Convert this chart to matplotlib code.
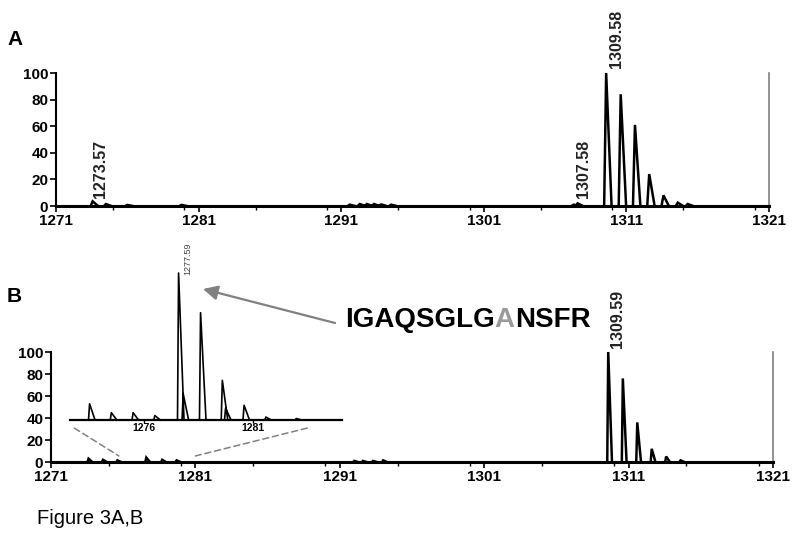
import numpy as np
import matplotlib
matplotlib.use("Agg")
import matplotlib.pyplot as plt
from matplotlib.patches import ConnectionPatch
from matplotlib.ticker import MultipleLocator

# ---------------- data ----------------
x_ticks = [1271, 1281, 1291, 1301, 1311, 1321]
y_ticks = [0, 20, 40, 60, 80, 100]

mzA = [1273.57, 1274.5, 1276.0, 1279.8, 1291.6, 1292.3, 1292.8, 1293.3, 1293.8,
       1294.5, 1307.3, 1307.58, 1309.58, 1310.6, 1311.6, 1312.6, 1313.6, 1314.6, 1315.3]
intA = [3.5, 1.5, 0.8, 0.8, 1.0, 1.5, 1.5, 1.5, 1.2,
        1.0, 1.0, 2.0, 100, 84, 61, 24, 8, 2.5, 1.5]
labelsA = [("1309.58", 1309.58, 100), ("1307.58", 1307.58, 0), ("1273.57", 1273.57, 0)]

mzB = [1273.6, 1274.6, 1275.6, 1277.6, 1278.7, 1279.7, 1292.0, 1292.6, 1293.3,
       1294.0, 1309.59, 1310.6, 1311.6, 1312.6, 1313.6, 1314.6]
intB = [3, 2, 1.5, 4, 2, 1.5, 1, 1, 1,
        1.5, 100, 76, 36, 12, 5, 1.5]
labelsB = [("1309.59", 1309.59, 100)]

mzI = [1273.5, 1274.5, 1275.5, 1276.5, 1277.59, 1277.8, 1278.6, 1279.6, 1279.75,
       1280.6, 1281.6, 1283.0]
intI = [11, 5, 5, 3, 100, 18, 73, 27, 8,
        10, 2, 1]
inset_ticks = [1276, 1281]
inset_label = ("1277.59", 1277.59, 100)

peptide = [("IGAQSGLG", "black"), ("A", "#9a9a9a"), ("NSFR", "black")]

# ---------------- style ----------------
SANS = ["Liberation Sans", "DejaVu Sans"]
W, H = 795, 533


def stick_profile(mz, inten, wl, wr):
    xs, ys = [], []
    for m, h in zip(mz, inten):
        xs += [m - wl, m, m + wr, np.nan]
        ys += [0, h, 0, np.nan]
    return xs, ys


def style_main(ax):
    ax.set_xlim(1271, 1321)
    ax.set_ylim(0, 100)
    ax.spines["top"].set_visible(False)
    ax.spines["right"].set_color("#808080")
    ax.spines["right"].set_linewidth(1.2)
    ax.spines["left"].set_linewidth(1.5)
    ax.spines["bottom"].set_linewidth(2.2)
    ax.set_xticks(x_ticks)
    ax.set_yticks(y_ticks)
    ax.xaxis.set_minor_locator(MultipleLocator(5))
    ax.tick_params(axis="both", which="major", direction="out", length=4, width=1.2, pad=1.5)
    ax.tick_params(axis="x", which="minor", direction="out", length=3, width=1)
    for lab in ax.get_xticklabels() + ax.get_yticklabels():
        lab.set_family(SANS)
        lab.set_fontweight("bold")
        lab.set_fontsize(11)
    ax.patch.set_alpha(0)


fig = plt.figure(figsize=(W / 100, H / 100), dpi=100)

axA = fig.add_axes([56 / W, 1 - 206 / H, 713 / W, 133 / H])
axB = fig.add_axes([51 / W, 1 - 462 / H, 722 / W, 110 / H])
axI = fig.add_axes([70 / W, 1 - 420 / H, 272 / W, 147 / H])

# panel A
xs, ys = stick_profile(mzA, intA, 0.14, 0.38)
axA.plot(xs, ys, color="black", lw=1.8, clip_on=False, solid_joinstyle="miter")
style_main(axA)
offsA = {"1309.58": (7.5, 3.5), "1307.58": (4, 6), "1273.57": (6, 6)}
for txt, m, h in labelsA:
    axA.annotate(txt, xy=(m, h), xytext=offsA[txt], textcoords="offset points",
                 rotation=90, ha="center", va="bottom", fontsize=11.5,
                 fontweight="bold", family=SANS, color="#222222")

# panel B
xs, ys = stick_profile(mzB, intB, 0.07, 0.26)
axB.plot(xs, ys, color="black", lw=1.8, clip_on=False, solid_joinstyle="miter")
style_main(axB)
for txt, m, h in labelsB:
    axB.annotate(txt, xy=(m, h), xytext=(6.5, 3), textcoords="offset points",
                 rotation=90, ha="center", va="bottom", fontsize=11.5,
                 fontweight="bold", family=SANS, color="#222222")

# inset
xs, ys = stick_profile(mzI, intI, 0.05, 0.25)
axI.plot(xs, ys, color="black", lw=1.2, clip_on=False)
axI.set_xlim(1272.6, 1285.1)
axI.set_ylim(0, 100)
for s in ["top", "right", "left"]:
    axI.spines[s].set_visible(False)
axI.spines["bottom"].set_linewidth(1.6)
axI.set_yticks([])
axI.set_xticks(inset_ticks)
axI.tick_params(axis="x", direction="out", length=2, width=1, pad=0.5)
for lab in axI.get_xticklabels():
    lab.set_family(SANS)
    lab.set_fontweight("bold")
    lab.set_fontsize(7.5)
axI.patch.set_alpha(0)
axI.annotate(inset_label[0], xy=(inset_label[1], inset_label[2]), xytext=(6.5, -1.5),
             textcoords="offset points", rotation=90, ha="center", va="bottom",
             fontsize=6.5, family=SANS, color="#444444")

# dashed connectors from inset to main panel
for (xi, xm) in [(1272.8, 1275.7), (1283.5, 1281.0)]:
    cp = ConnectionPatch(xyA=(xi, -5.5), coordsA=axI.transData,
                         xyB=(xm, 5.5), coordsB=axB.transData,
                         color="#808080", lw=1.1, linestyle=(0, (4, 2.5)))
    fig.add_artist(cp)

# arrow
fig.add_artist(matplotlib.patches.FancyArrowPatch(
    posA=(335 / W, 1 - 323 / H), posB=(203 / W, 1 - 289 / H),
    transform=fig.transFigure, arrowstyle="-|>", mutation_scale=22,
    color="#808080", lw=1.6, shrinkA=0, shrinkB=0))

# peptide text
renderer = fig.canvas.get_renderer()
x = 345 / W
y = 1 - 327 / H
for s, c in peptide:
    t = fig.text(x, y, s, color=c, fontsize=20, fontweight="bold", family=SANS,
                 va="baseline", ha="left")
    bb = t.get_window_extent(renderer)
    x += bb.width / fig.bbox.width

# panel letters and caption
fig.text(7 / W, 1 - 45 / H, "A", fontsize=15, fontweight="bold", family=SANS, va="baseline")
fig.text(7 / W, 1 - 302 / H, "B", fontsize=15, fontweight="bold", family=SANS, va="baseline")
fig.text(37 / W, 1 - 524 / H, "Figure 3A,B", fontsize=14.5, family=SANS, va="baseline")

fig.savefig("out.png", dpi=100, facecolor="white")
